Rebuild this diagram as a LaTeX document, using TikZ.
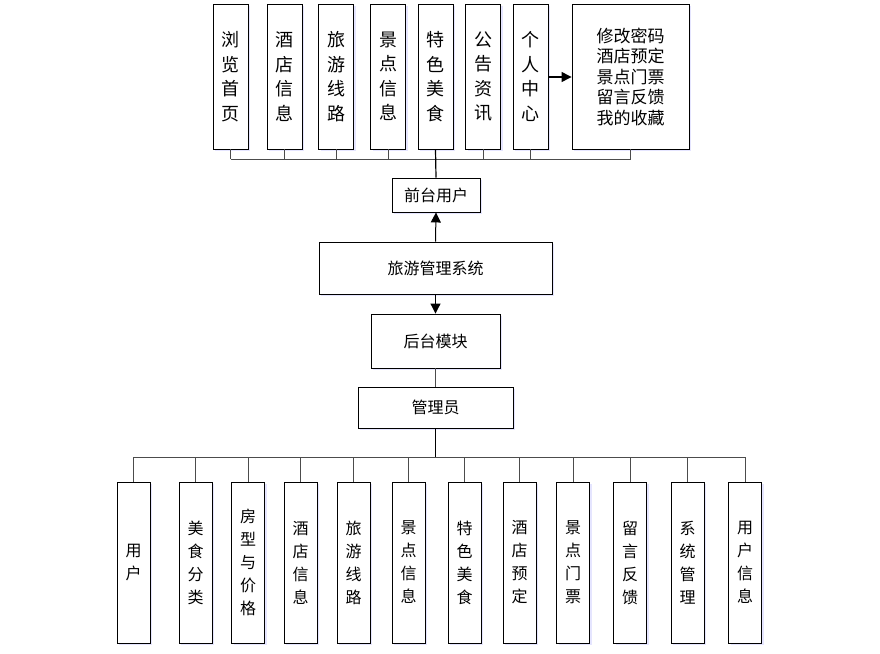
\documentclass[tikz,border=0pt]{standalone}
\usepackage{fontspec}
\newfontfamily\cjk{Noto Sans CJK SC}
\usetikzlibrary{arrows.meta, shadows}

\begin{document}
\begin{tikzpicture}[
        x = 1pt, y = -1pt,
        >= {Triangle[length = 10pt, width = 10pt]},
        every node/.style = {font = \cjk, inner sep = 0pt},
        box/.style = {draw = black, line width = 0.9pt, fill = white,
                      drop shadow = {fill = blue!25, shadow xshift = 2pt, shadow yshift = -2pt, opacity = 0.4}},
        topbox/.style = {box, minimum width = 35pt, minimum height = 145pt, align = center,
                         font = \cjk\fontsize{18}{24.5}\selectfont},
        lowbox/.style = {box, minimum width = 33pt, minimum height = 161pt, align = center,
                         font = \cjk\fontsize{16}{23}\selectfont},
        midbox/.style = {box, font = \cjk\fontsize{16}{18}\selectfont},
        wire/.style = {draw = black!70, line width = 1pt},
        mainwire/.style = {draw = black, line width = 1.2pt}
    ]
    \useasboundingbox (0,0) rectangle (880,653);

    % front-end user modules
    \node[topbox] (f1) at (230.5,76.5) {浏\\览\\首\\页};
    \node[topbox] (f2) at (284.5,76.5) {酒\\店\\信\\息};
    \node[topbox] (f3) at (336,76.5) {旅\\游\\线\\路};
    \node[topbox] (f4) at (388,76.5) {景\\点\\信\\息};
    \node[topbox] (f5) at (435.5,76.5) {特\\色\\美\\食};
    \node[topbox] (f6) at (483,76.5) {公\\告\\资\\讯};
    \node[topbox] (f7) at (530.5,76.5) {个\\人\\中\\心};
    \node[box, minimum width = 117pt, minimum height = 145pt, align = center,
          font = \cjk\fontsize{17}{20.5}\selectfont] (f8) at (630.5,76.5)
          {修改密码\\酒店预定\\景点门票\\留言反馈\\我的收藏};

    \node[midbox, minimum width = 88pt, minimum height = 34pt] (user) at (436,195) {前台用户};
    \node[midbox, minimum width = 233pt, minimum height = 52pt] (sys) at (435.5,268) {旅游管理系统};
    \node[midbox, minimum width = 129pt, minimum height = 54pt] (back) at (435.5,341) {后台模块};
    \node[midbox, minimum width = 155pt, minimum height = 41pt] (admin) at (435.5,407.5) {管理员};

    % back-end admin modules
    \node[lowbox] (b1) at (133.5,562.5) {用\\户};
    \node[lowbox] (b2) at (195.5,562.5) {美\\食\\分\\类};
    \node[lowbox] (b3) at (248,562.5) {房\\型\\与\\价\\格};
    \node[lowbox] (b4) at (300.5,562.5) {酒\\店\\信\\息};
    \node[lowbox] (b5) at (353.5,562.5) {旅\\游\\线\\路};
    \node[lowbox] (b6) at (408.5,562.5) {景\\点\\信\\息};
    \node[lowbox] (b7) at (464.5,562.5) {特\\色\\美\\食};
    \node[lowbox] (b8) at (519.5,562.5) {酒\\店\\预\\定};
    \node[lowbox] (b9) at (573,562.5) {景\\点\\门\\票};
    \node[lowbox] (b10) at (630,562.5) {留\\言\\反\\馈};
    \node[lowbox] (b11) at (687.5,562.5) {系\\统\\管\\理};
    \node[lowbox] (b12) at (745,562.5) {用\\户\\信\\息};

    \coordinate (topbus) at (436,159);
    \coordinate (lowbus) at (435.5,457);

    % upper tree
    \path[wire] (f1.south |- topbus) -- (f8.south |- topbus);
    \foreach \n in {f1, f2, f3, f4, f6, f7, f8}
        \path[wire] (\n.south) -- (\n.south |- topbus);
    \path[mainwire] (f5.south) -- (user.north);
    \draw[->, line width = 1.3pt] (f7.east |- 0,77) -- (f8.west |- 0,77);
    \draw[->, line width = 1pt] (sys.north) -- (user.south);
    \draw[->, line width = 1pt] (sys.south) -- (back.north);
    \path[wire] (back.south) -- (admin.north);

    % lower tree
    \path[mainwire] (admin.south) -- (lowbus);
    \path[wire] (b1.north |- lowbus) -- (b12.north |- lowbus);
    \foreach \n in {b1, b2, b3, b4, b5, b6, b7, b8, b9, b10, b11, b12}
        \path[wire] (\n.north |- lowbus) -- (\n.north);
\end{tikzpicture}
\end{document}
